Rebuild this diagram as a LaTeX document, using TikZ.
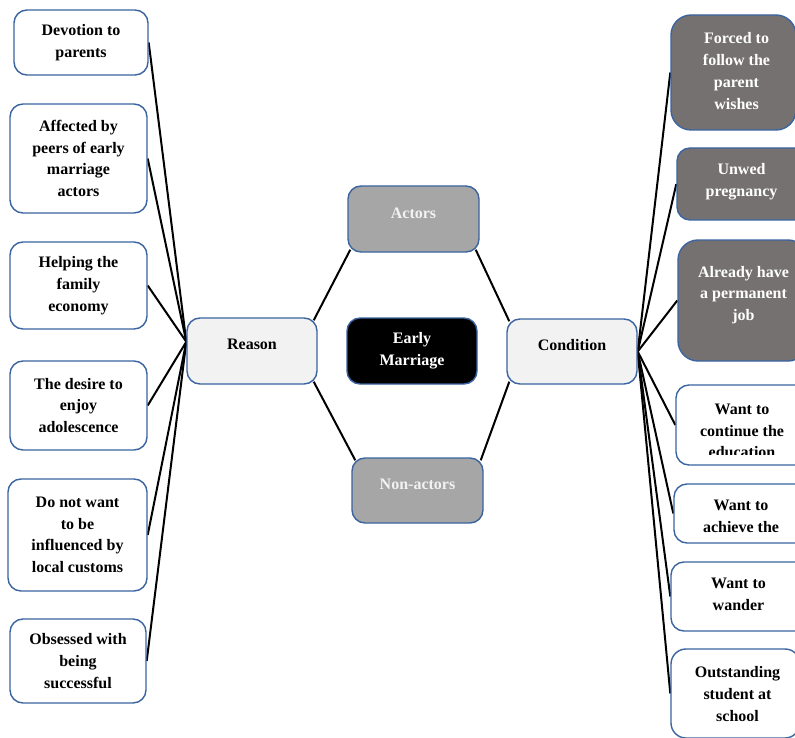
\documentclass[tikz,border=0pt]{standalone}
\usepackage{fontspec}
\setmainfont{Liberation Serif}
\usetikzlibrary{backgrounds,calc}
\definecolor{bordc}{HTML}{3B64A0}
\definecolor{lightg}{HTML}{F2F2F2}
\definecolor{midg}{HTML}{A6A6A6}
\definecolor{darkg}{HTML}{767171}
\tikzset{
  box/.style 2 args={draw=bordc, line width=1.4pt, rounded corners=13pt, fill=white,
    minimum width=#1, minimum height=#2, inner sep=0pt, align=center,
    font=\bfseries\fontsize{16pt}{21.7pt}\selectfont},
  txt/.style={inner sep=0pt, align=center, font=\bfseries\fontsize{16pt}{21.7pt}\selectfont},
  conn/.style={draw=black, line width=2pt}
}
\begin{document}
\begin{tikzpicture}[x=1pt,y=-1pt]
\useasboundingbox (0,0) rectangle (795,738);
\clip (0,0) rectangle (795,738);
\begin{scope}[on background layer]
\fill[white] (0,0) rectangle (795,738);
\end{scope}

% left column
\node[box={134pt}{65pt}] (l1) at (81,42.5) {Devotion to\\parents};
\node[box={137pt}{109pt}] (l2) at (78.5,158.5) {Affected by\\peers of early\\marriage\\actors};
\node[box={137pt}{87pt}] (l3) at (78.5,285.5) {Helping the\\family\\economy};
\node[box={137pt}{89pt}] (l4) at (78.5,405.5) {The desire to\\enjoy\\adolescence};
\node[box={139pt}{112pt}] (l5) at (77.5,535) {Do not want\\to be\\influenced by\\local customs};
\node[box={136pt}{84pt}] (l6) at (78,661) {Obsessed with\\being\\successful};

% centre
\node[box={130pt}{66pt}, fill=lightg] (reason) at (252,351) {};
\node[txt] (treason) at (252,344) {Reason};
\node[box={131pt}{66pt}, fill=midg] (actors) at (413.5,219) {};
\node[txt, text=lightg] (tactors) at (413.5,213) {Actors};
\node[box={130pt}{66pt}, fill=black, text=white] (early) at (412,351) {Early\\Marriage};
\node[box={130pt}{65pt}, fill=lightg] (cond) at (572,351.5) {};
\node[txt] (tcond) at (572,345) {Condition};
\node[box={131pt}{65pt}, fill=midg] (nonact) at (417.5,490.5) {};
\node[txt, text=lightg] (tnonact) at (417.5,484) {Non-actors};

% right column
\node[box={125pt}{115pt}, fill=darkg, rounded corners=20pt] (r1) at (733.5,72.5) {};
\node[txt, text=white] (t1) at (736.5,71) {Forced to\\follow the\\parent\\wishes};
\node[box={131pt}{72pt}, fill=darkg] (r2) at (742.5,184) {};
\node[txt, text=white] (t2) at (741.5,182) {Unwed\\pregnancy};
\node[box={130pt}{121pt}, fill=darkg, rounded corners=20pt] (r3) at (743,300.5) {};
\node[txt, text=white] (t3) at (743.5,295) {Already have\\a permanent\\job};
\node[box={132pt}{80pt}] (r4) at (742,425) {};
\begin{scope}
\clip (670,390) rectangle (800,454.5);
\node[txt] (t4) at (742,431) {Want to\\continue the\\education};
\end{scope}
\node[box={134pt}{59pt}] (r5) at (741,513.5) {};
\node[txt] (t5) at (741,516) {Want to\\achieve the};
\node[box={137pt}{69pt}] (r6) at (739.5,596.5) {};
\node[txt] (t6) at (738.5,594) {Want to\\wander};
\node[box={129pt}{89pt}, rounded corners=15pt] (r7) at (735.5,693.5) {};
\node[txt] (t7) at (737.5,694) {Outstanding\\student at\\school};

% connectors
\begin{scope}[on background layer]
\draw[conn] (reason.172) -- (l1.east);
\draw[conn] (reason.172) -- (l2.east);
\draw[conn] (reason.172) -- (l3.east);
\draw[conn] (reason.172) -- (l4.east);
\draw[conn] (reason.172) -- (l5.east);
\draw[conn] (reason.172) -- (l6.east);
\draw[conn] ($(reason.north east)+(-4,3)$) -- ($(actors.south west)+(3,-3)$);
\draw[conn] ($(actors.south east)+(-4,-3)$) -- ($(cond.north west)+(3,3)$);
\draw[conn] ($(reason.south east)+(-4,-3)$) -- ($(nonact.north west)+(4,3)$);
\draw[conn] ($(nonact.north east)+(-3,3)$) -- ($(cond.south west)+(3,-3)$);
\draw[conn] (cond.east) -- (r1.west);
\draw[conn] (cond.east) -- (r2.west);
\draw[conn] (cond.east) -- (r3.west);
\draw[conn] (cond.east) -- (r4.west);
\draw[conn] (cond.east) -- (r5.west);
\draw[conn] (cond.east) -- (r6.west);
\draw[conn] (cond.east) -- (r7.west);
\end{scope}
\end{tikzpicture}
\end{document}
